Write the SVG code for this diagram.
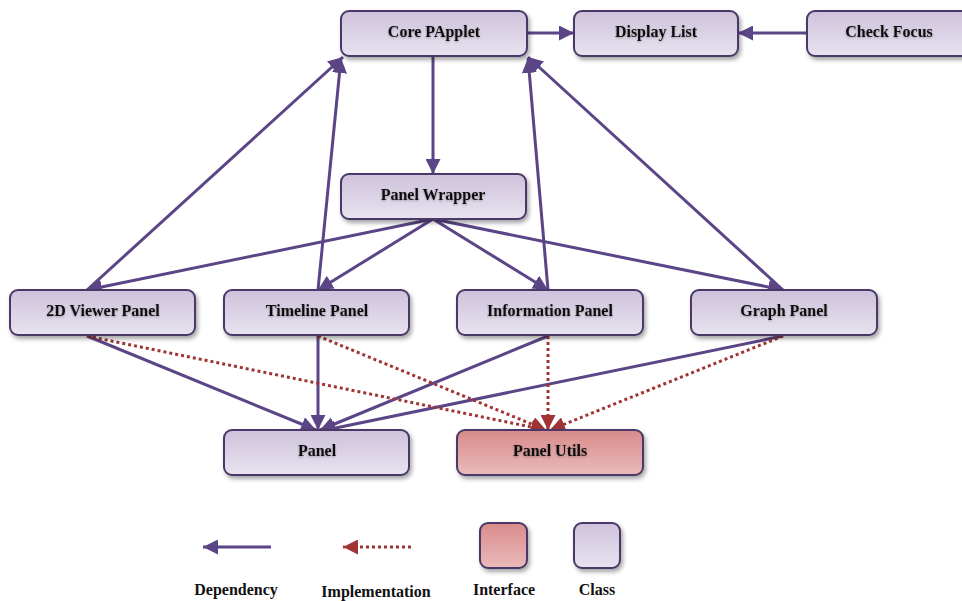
<svg xmlns="http://www.w3.org/2000/svg" width="962" height="601" viewBox="0 0 962 601">
<defs>
<linearGradient id="gc" x1="0" y1="0" x2="0" y2="1"><stop offset="0" stop-color="#cec2dc"/><stop offset="1" stop-color="#e8e3ef"/></linearGradient>
<linearGradient id="gi" x1="0" y1="0" x2="0" y2="1"><stop offset="0" stop-color="#d88b8b"/><stop offset="1" stop-color="#ebbaba"/></linearGradient>
<filter id="sh" x="-10%" y="-20%" width="125%" height="160%"><feDropShadow dx="2" dy="3" stdDeviation="2" flood-color="#000" flood-opacity="0.35"/></filter>
<filter id="ts" x="-10%" y="-30%" width="120%" height="160%"><feDropShadow dx="0" dy="1" stdDeviation="1.2" flood-color="#000" flood-opacity="0.3"/></filter>
<marker id="ad" viewBox="0 0 10 10" refX="10" refY="5" markerWidth="5" markerHeight="5" orient="auto" markerUnits="strokeWidth"><path d="M0,0L10,5L0,10z" fill="#5b4586"/></marker>
<marker id="ai" viewBox="0 0 10 10" refX="10" refY="5" markerWidth="5" markerHeight="5" orient="auto" markerUnits="strokeWidth"><path d="M0,0L10,5L0,10z" fill="#a03434"/></marker>
</defs>
<style>
.c{fill:url(#gc);stroke:#4a3868;stroke-width:2;filter:url(#sh)}
.i{fill:url(#gi);stroke:#4a3868;stroke-width:2;filter:url(#sh)}
text{font-family:"Liberation Serif","Times New Roman",serif;font-weight:bold;font-size:16px;fill:#111;text-anchor:middle}
.t{filter:url(#ts)}
.d{fill:none;stroke:#5b4586;stroke-width:3;marker-end:url(#ad)}
.m{fill:none;stroke:#a03434;stroke-width:3;stroke-dasharray:3 3;marker-end:url(#ai)}
</style>
<g id="connectors">
<path class="d" d="M527,33H574"/>
<path class="d" d="M807,33H738"/>
<path class="d" d="M433,56V174"/>
<path class="d" d="M87,290L343,57"/>
<path class="d" d="M318,290L341,58"/>
<path class="d" d="M548,290L528,58"/>
<path class="d" d="M783,290L528,57"/>
<path class="d" d="M433,219L87,290"/>
<path class="d" d="M433,219L318,290"/>
<path class="d" d="M433,219L548,290"/>
<path class="d" d="M433,219L783,290"/>
<path class="d" d="M87,336L316,430"/>
<path class="d" d="M318,336V430"/>
<path class="d" d="M548,336L320,430"/>
<path class="d" d="M783,336L321,431"/>
<path class="m" d="M87,336L546,430"/>
<path class="m" d="M318,336L546,430"/>
<path class="m" d="M548,336V430"/>
<path class="m" d="M783,336L550,430"/>
</g>
<g id="core-papplet"><rect class="c" x="341" y="11" width="186" height="45" rx="8"/><text class="t" x="434" y="37">Core PApplet</text></g>
<g id="display-list"><rect class="c" x="574" y="11" width="164" height="45" rx="8"/><text class="t" x="656" y="37">Display List</text></g>
<g id="check-focus"><rect class="c" x="807" y="11" width="164" height="45" rx="8"/><text class="t" x="889" y="37">Check Focus</text></g>
<g id="panel-wrapper"><rect class="c" x="341" y="174" width="185" height="45" rx="8"/><text class="t" x="433" y="200">Panel Wrapper</text></g>
<g id="viewer-2d"><rect class="c" x="10" y="290" width="185" height="45" rx="8"/><text class="t" x="103" y="316">2D Viewer Panel</text></g>
<g id="timeline-panel"><rect class="c" x="224" y="290" width="185" height="45" rx="8"/><text class="t" x="317" y="316">Timeline Panel</text></g>
<g id="information-panel"><rect class="c" x="457" y="290" width="186" height="45" rx="8"/><text class="t" x="550" y="316">Information Panel</text></g>
<g id="graph-panel"><rect class="c" x="691" y="290" width="186" height="45" rx="8"/><text class="t" x="784" y="316">Graph Panel</text></g>
<g id="panel"><rect class="c" x="224" y="430" width="185" height="45" rx="8"/><text class="t" x="317" y="456">Panel</text></g>
<g id="panel-utils"><rect class="i" x="457" y="430" width="186" height="45" rx="8"/><text class="t" x="550" y="456">Panel Utils</text></g>
<g id="legend">
<path class="d" d="M271,547H203"/>
<path class="m" d="M411,547H343"/>
<rect class="i" x="480" y="523" width="47" height="45" rx="8"/>
<rect class="c" x="574" y="523" width="46" height="45" rx="8"/>
<text x="236" y="595">Dependency</text>
<text x="376" y="597">Implementation</text>
<text x="504" y="595">Interface</text>
<text x="597" y="595">Class</text>
</g>
</svg>
